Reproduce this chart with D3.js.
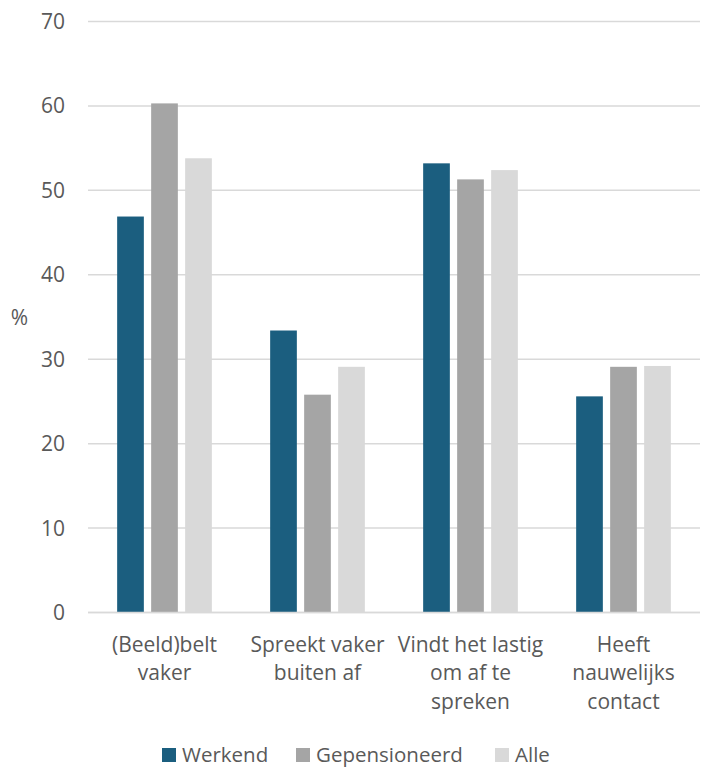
<!DOCTYPE html>
<html>
<head>
<meta charset="utf-8">
<script src="https://cdn.jsdelivr.net/npm/d3@7"></script>
<style>
  html, body { margin: 0; padding: 0; background: #ffffff; }
  svg text { font-family: "Open Sans", sans-serif; fill: #595959; }
</style>
</head>
<body>
<svg id="chart" width="701" height="767"></svg>
<script>
const categories = [
  ["(Beeld)belt", "vaker"],
  ["Spreekt vaker", "buiten af"],
  ["Vindt het lastig", "om af te", "spreken"],
  ["Heeft", "nauwelijks", "contact"]
];
const seriesNames = ["Werkend", "Gepensioneerd", "Alle"];
const werkend = [46.9, 33.4, 53.2, 25.6];
const gepensioneerd = [60.3, 25.8, 51.3, 29.1];
const alle = [53.8, 29.1, 52.4, 29.2];
const yTicks = [0, 10, 20, 30, 40, 50, 60, 70];
const colors = ["#1b5e7f", "#a5a5a5", "#d9d9d9"];

const seriesValues = [werkend, gepensioneerd, alle];
const svg = d3.select("#chart");

const plotLeft = 88, plotRight = 700, plotTop = 21.5, plotBottom = 612.5;

const y = d3.scaleLinear().domain([0, 70]).range([plotBottom, plotTop]);
const x0 = d3.scaleBand().domain(d3.range(categories.length)).range([plotLeft, plotRight]).padding(0);
const x1 = d3.scaleBand().domain(d3.range(seriesNames.length))
  .range([-51, 51]).paddingInner(0.215).paddingOuter(0.1075);

// gridlines
svg.append("g").selectAll("line").data(yTicks).join("line")
  .attr("x1", plotLeft).attr("x2", plotRight)
  .attr("y1", d => y(d)).attr("y2", d => y(d))
  .attr("stroke", "#d9d9d9").attr("stroke-width", 1.5);

// y tick labels
svg.append("g").selectAll("text").data(yTicks).join("text")
  .attr("x", 65).attr("y", d => y(d) + 7.5)
  .attr("text-anchor", "end")
  .style("font-size", "21px")
  .text(d => d);

// y axis title
svg.append("text").attr("x", 19.5).attr("y", 325)
  .attr("text-anchor", "middle").style("font-size", "21px").text("%");

// bars
const groups = svg.append("g").selectAll("g").data(categories.map((c, i) => i)).join("g")
  .attr("transform", i => `translate(${x0(i) + x0.bandwidth() / 2},0)`);

groups.selectAll("rect")
  .data(i => seriesValues.map((s, k) => ({ k, v: s[i] })))
  .join("rect")
  .attr("x", d => x1(d.k))
  .attr("width", x1.bandwidth())
  .attr("y", d => y(d.v))
  .attr("height", d => y(0) - y(d.v))
  .attr("fill", d => colors[d.k]);

// baseline redraw
svg.append("line").attr("x1", plotLeft).attr("x2", plotRight)
  .attr("y1", y(0)).attr("y2", y(0))
  .attr("stroke", "#d9d9d9").attr("stroke-width", 1.5);

// category labels
const catG = svg.append("g").selectAll("text").data(categories).join("text")
  .attr("text-anchor", "middle")
  .style("font-size", "21px")
  .attr("transform", (d, i) => `translate(${x0(i) + x0.bandwidth() / 2},0)`);
catG.selectAll("tspan").data(d => d).join("tspan")
  .attr("x", 0)
  .attr("y", (d, j) => 652 + j * 28.3)
  .text(d => d);

// legend
const legendX = [162, 296, 495];
const lg = svg.append("g").selectAll("g").data(seriesNames).join("g")
  .attr("transform", (d, i) => `translate(${legendX[i]},748)`);
lg.append("rect").attr("width", 14).attr("height", 14).attr("fill", (d, i) => colors[i]);
lg.append("text").attr("x", 20).attr("y", 14).style("font-size", "20.5px").text(d => d);
</script>
</body>
</html>
